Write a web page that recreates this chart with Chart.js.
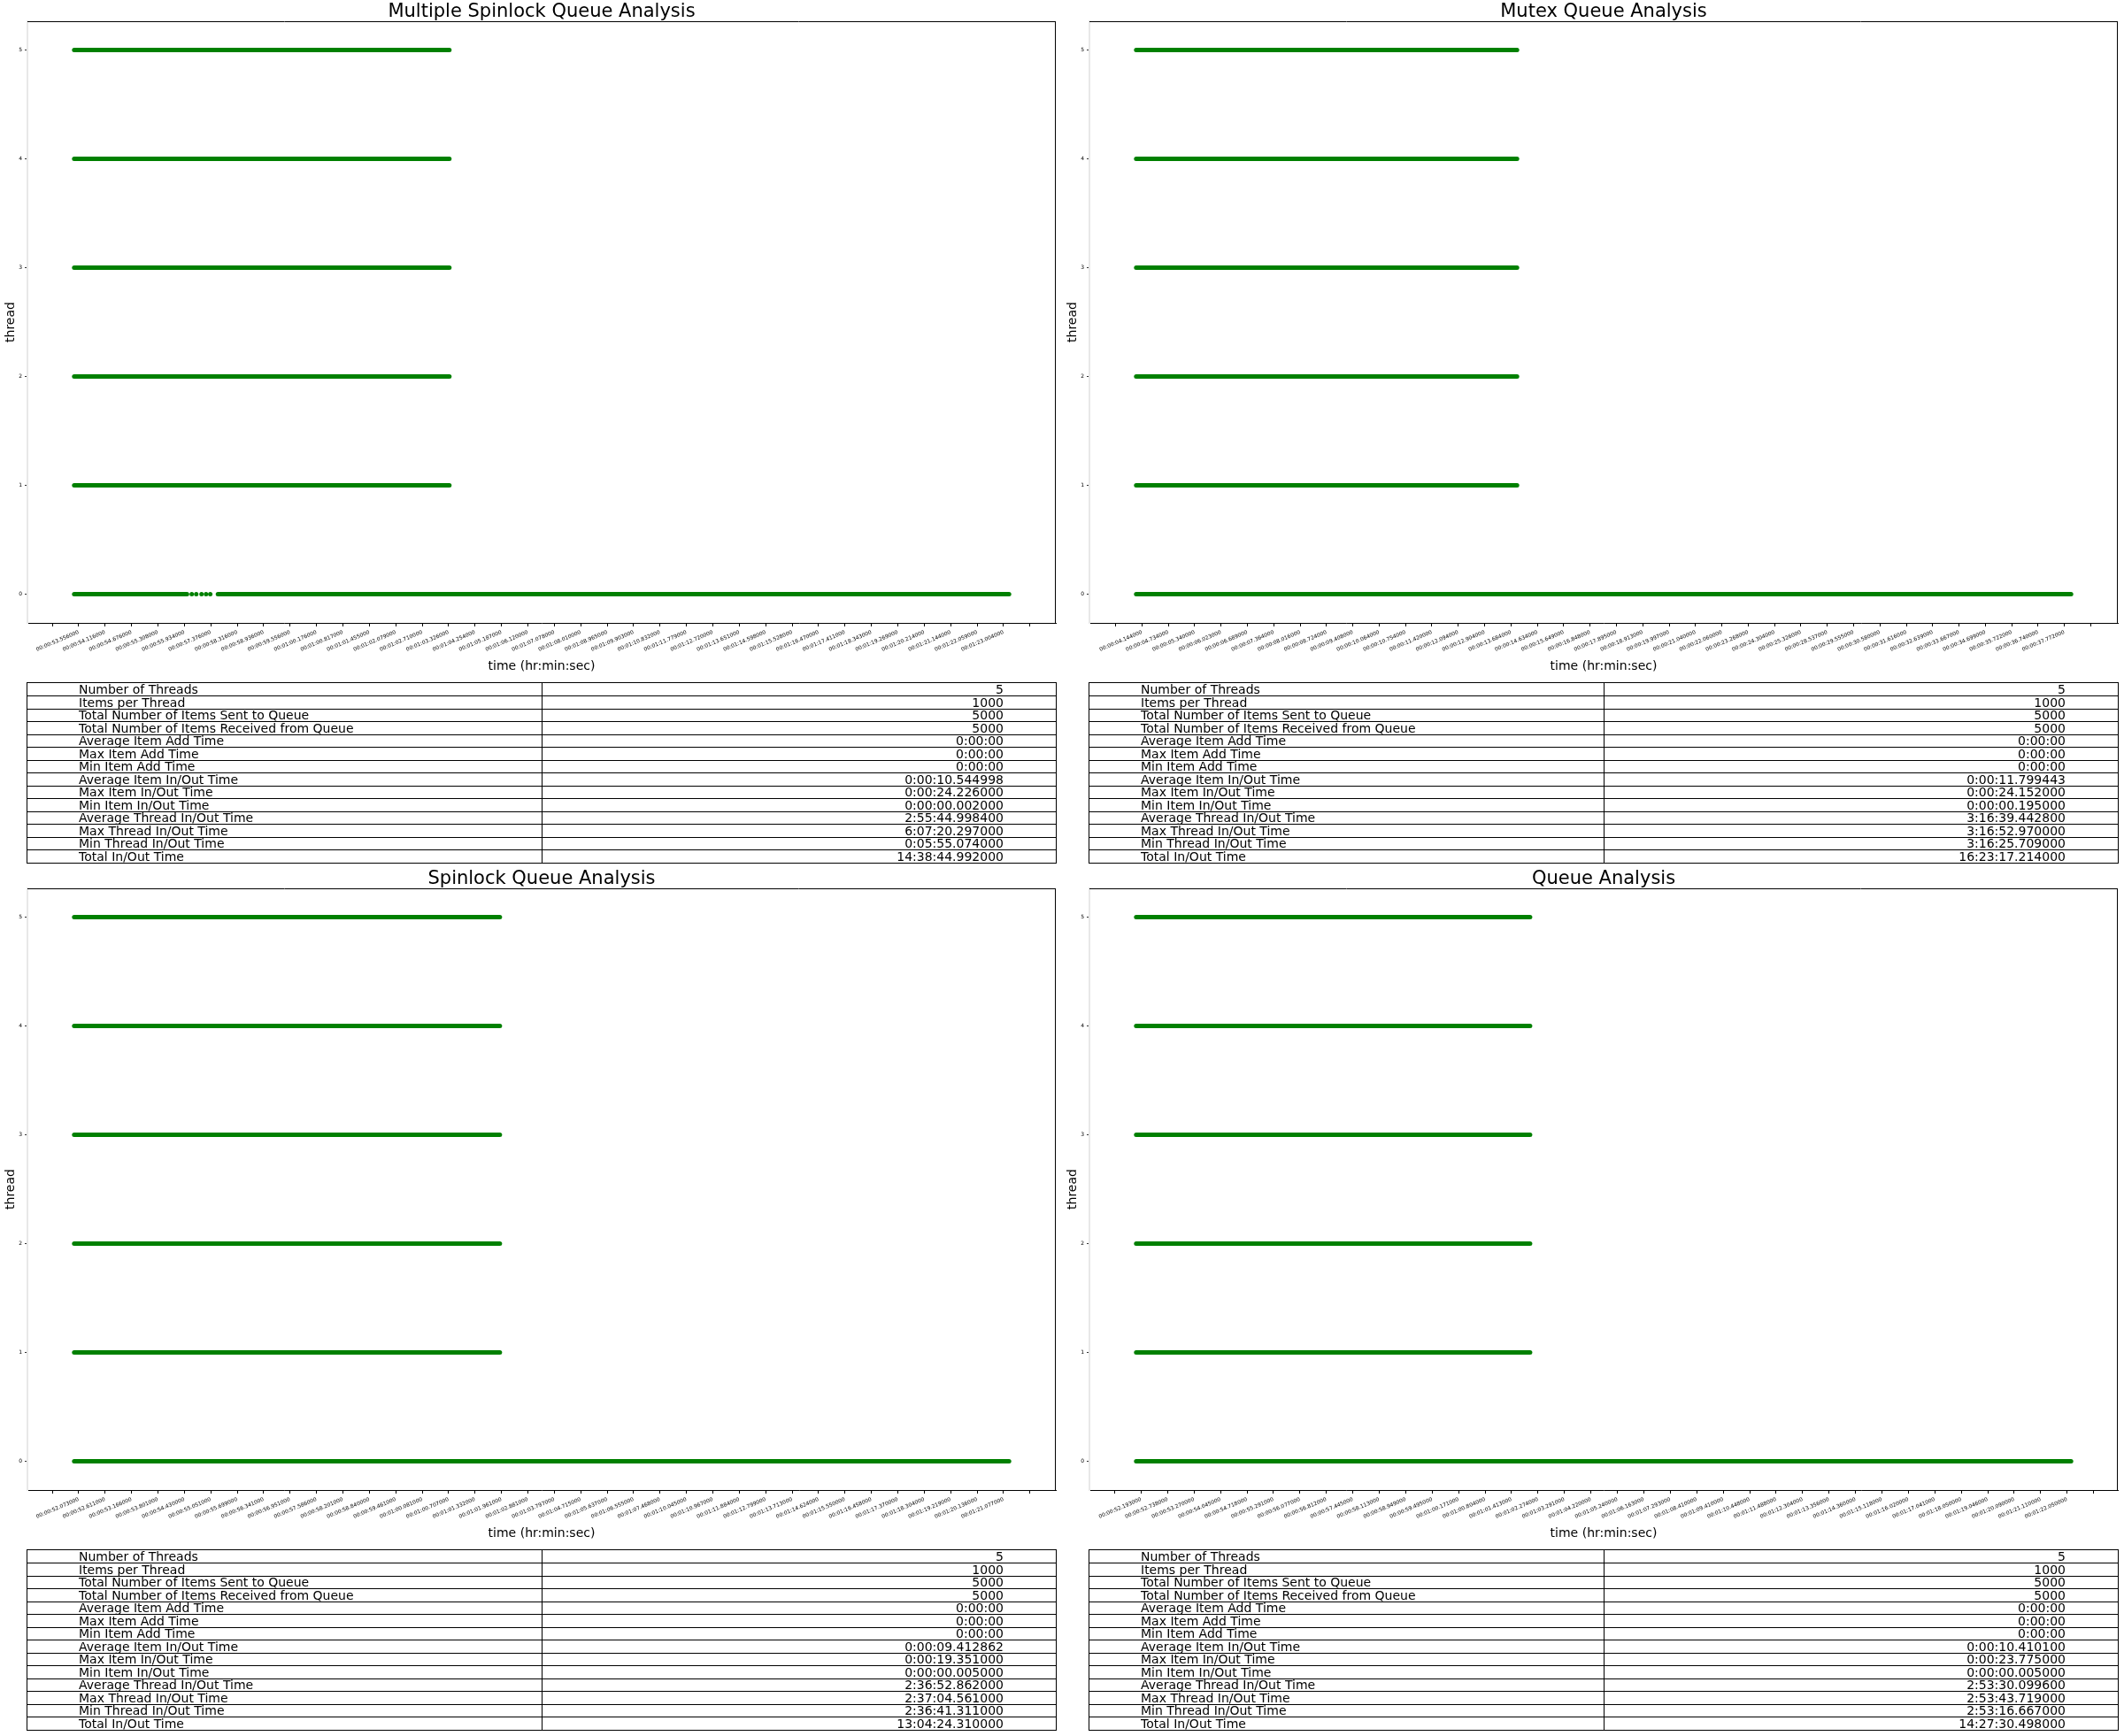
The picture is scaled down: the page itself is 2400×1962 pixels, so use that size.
<!DOCTYPE html>
<html><head><meta charset="utf-8">
<script src="https://cdn.jsdelivr.net/npm/chart.js@4.4.0/dist/chart.umd.min.js"></script>
<style>
html,body{margin:0;padding:0;background:#fff;}
body{width:2400px;height:1962px;overflow:hidden;position:relative;font-family:"DejaVu Sans";}
.panel{position:absolute;width:1200px;height:980px;}
.panel canvas{position:absolute;left:0;top:0;}
.tbl{position:absolute;left:30px;top:771px;width:1164px;height:205px;box-sizing:border-box;border:1px solid #000;}
.tbl .hl{position:absolute;left:0;right:0;height:1px;background:#000;}
.tbl .vl{position:absolute;top:0;bottom:0;left:581px;width:1px;background:#000;}
.tbl .lc,.tbl .rc{position:absolute;font-size:14px;color:#000;white-space:nowrap;}
.tbl .lc{left:58px;}
.tbl .rc{right:59px;text-align:right;}
</style>
</head><body>
<script>
const GREEN = '#008000';
const threads = [0, 1, 2, 3, 4, 5];
const panelTitles = ['Multiple Spinlock Queue Analysis', 'Mutex Queue Analysis', 'Spinlock Queue Analysis', 'Queue Analysis'];
const rowLabels = ['Number of Threads', 'Items per Thread', 'Total Number of Items Sent to Queue',
  'Total Number of Items Received from Queue', 'Average Item Add Time', 'Max Item Add Time', 'Min Item Add Time',
  'Average Item In/Out Time', 'Max Item In/Out Time', 'Min Item In/Out Time', 'Average Thread In/Out Time',
  'Max Thread In/Out Time', 'Min Thread In/Out Time', 'Total In/Out Time'];

// x tick labels (one per labelled tick)
const mslTicks = ['00:00:53.556000','00:00:54.116000','00:00:54.676000','00:00:55.308000','00:00:55.934000','00:00:57.376000',
  '00:00:58.316000','00:00:58.936000','00:00:59.556000','00:01:00.176000','00:01:00.817000','00:01:01.455000',
  '00:01:02.079000','00:01:02.710000','00:01:03.326000','00:01:04.254000','00:01:05.187000','00:01:06.120000',
  '00:01:07.078000','00:01:08.010000','00:01:08.965000','00:01:09.903000','00:01:10.832000','00:01:11.779000',
  '00:01:12.720000','00:01:13.651000','00:01:14.598000','00:01:15.528000','00:01:16.470000','00:01:17.411000',
  '00:01:18.343000','00:01:19.269000','00:01:20.214000','00:01:21.144000','00:01:22.059000','00:01:23.004000'];
const mutexTicks = ['00:00:04.144000','00:00:04.734000','00:00:05.340000','00:00:06.023000','00:00:06.689000','00:00:07.364000',
  '00:00:08.016000','00:00:08.724000','00:00:09.408000','00:00:10.064000','00:00:10.754000','00:00:11.420000',
  '00:00:12.094000','00:00:12.904000','00:00:13.684000','00:00:14.634000','00:00:15.649000','00:00:16.848000',
  '00:00:17.895000','00:00:18.913000','00:00:19.997000','00:00:21.040000','00:00:22.060000','00:00:23.268000',
  '00:00:24.304000','00:00:25.326000','00:00:28.537000','00:00:29.555000','00:00:30.580000','00:00:31.616000',
  '00:00:32.639000','00:00:33.667000','00:00:34.699000','00:00:35.722000','00:00:36.740000','00:00:37.772000'];
const spinTicks = ['00:00:52.073000','00:00:52.611000','00:00:53.166000','00:00:53.801000','00:00:54.430000','00:00:55.051000',
  '00:00:55.699000','00:00:56.341000','00:00:56.951000','00:00:57.586000','00:00:58.201000','00:00:58.840000',
  '00:00:59.461000','00:01:00.081000','00:01:00.707000','00:01:01.332000','00:01:01.961000','00:01:02.881000',
  '00:01:03.797000','00:01:04.715000','00:01:05.637000','00:01:06.555000','00:01:07.468000','00:01:10.045000',
  '00:01:10.967000','00:01:11.884000','00:01:12.799000','00:01:13.713000','00:01:14.624000','00:01:15.550000',
  '00:01:16.458000','00:01:17.370000','00:01:18.304000','00:01:19.219000','00:01:20.136000','00:01:21.077000'];
const queueTicks = ['00:00:52.193000','00:00:52.738000','00:00:53.270000','00:00:54.045000','00:00:54.718000','00:00:55.291000',
  '00:00:56.077000','00:00:56.812000','00:00:57.445000','00:00:58.113000','00:00:58.949000','00:00:59.495000',
  '00:01:00.171000','00:01:00.804000','00:01:01.413000','00:01:02.274000','00:01:03.291000','00:01:04.220000',
  '00:01:05.240000','00:01:06.163000','00:01:07.293000','00:01:08.410000','00:01:09.410000','00:01:10.448000',
  '00:01:11.488000','00:01:12.304000','00:01:13.356000','00:01:14.360000','00:01:15.118000','00:01:16.020000',
  '00:01:17.041000','00:01:18.050000','00:01:19.046000','00:01:20.090000','00:01:21.110000','00:01:22.050000'];

// first / last point of each thread (x in tick positions), threads 0..5
const mslStart = [-0.17, -0.17, -0.17, -0.17, -0.17, -0.17];
const mslEnd = [35.21, 14.03, 14.03, 14.03, 14.03, 14.03];
const mslGap0 = [4.10, 5.27];
const mslDots0 = [4.28, 4.45, 4.65, 4.82, 4.98];
const mutexStart = [-0.22, -0.22, -0.22, -0.22, -0.22, -0.22];
const mutexEnd = [35.25, 14.23, 14.23, 14.23, 14.23, 14.23];
const spinStart = [-0.17, -0.17, -0.17, -0.17, -0.17, -0.17];
const spinEnd = [35.21, 15.94, 15.94, 15.94, 15.94, 15.94];
const queueStart = [-0.19, -0.19, -0.19, -0.19, -0.19, -0.19];
const queueEnd = [35.15, 14.70, 14.70, 14.70, 14.70, 14.70];

// table values
const mslStats = ['5','1000','5000','5000','0:00:00','0:00:00','0:00:00','0:00:10.544998','0:00:24.226000','0:00:00.002000',
  '2:55:44.998400','6:07:20.297000','0:05:55.074000','14:38:44.992000'];
const mutexStats = ['5','1000','5000','5000','0:00:00','0:00:00','0:00:00','0:00:11.799443','0:00:24.152000','0:00:00.195000',
  '3:16:39.442800','3:16:52.970000','3:16:25.709000','16:23:17.214000'];
const spinStats = ['5','1000','5000','5000','0:00:00','0:00:00','0:00:00','0:00:09.412862','0:00:19.351000','0:00:00.005000',
  '2:36:52.862000','2:37:04.561000','2:36:41.311000','13:04:24.310000'];
const queueStats = ['5','1000','5000','5000','0:00:00','0:00:00','0:00:00','0:00:10.410100','0:00:23.775000','0:00:00.005000',
  '2:53:30.099600','2:53:43.719000','2:53:16.667000','14:27:30.498000'];

Chart.defaults.font.family = 'DejaVu Sans';

const framePlugin = {
  id: 'frame',
  afterDraw(c) {
    const {ctx, chartArea: a} = c;
    ctx.save();
    ctx.strokeStyle = '#000'; ctx.lineWidth = 1;
    ctx.beginPath();
    ctx.moveTo(a.left, a.top + 0.5); ctx.lineTo(a.right, a.top + 0.5);
    ctx.moveTo(a.right - 0.5, a.top); ctx.lineTo(a.right - 0.5, a.bottom);
    ctx.stroke();
    ctx.restore();
  }
};

function withMargin(lo, hi, m) { const s = hi - lo; return [lo - m * s, hi + m * s]; }

function makePanel(ox, oy, title, tickLabels, start, end, gaps, dots, stats) {
  const panel = document.createElement('div');
  panel.className = 'panel';
  panel.style.left = ox + 'px'; panel.style.top = oy + 'px';
  document.body.appendChild(panel);
  const cv = document.createElement('canvas');
  cv.width = 1200; cv.height = 772;
  panel.appendChild(cv);

  const datasets = [];
  const allX = [];
  threads.forEach((t, i) => {
    let segs = [[start[i], end[i]]];
    (gaps[i] || []).forEach(g => {
      const out = [];
      segs.forEach(([a, b]) => { if (g[0] > a && g[1] < b) { out.push([a, g[0]]); out.push([g[1], b]); } else out.push([a, b]); });
      segs = out;
    });
    segs.forEach(([a, b]) => {
      allX.push(a, b);
      datasets.push({data: [{x: a, y: t}, {x: b, y: t}], showLine: true, borderColor: GREEN, backgroundColor: GREEN,
        borderWidth: 5, borderCapStyle: 'round', pointRadius: 0});
    });
    if (dots[i]) {
      dots[i].forEach(x => allX.push(x));
      datasets.push({data: dots[i].map(x => ({x, y: t})), showLine: false, pointRadius: 2.5,
        backgroundColor: GREEN, borderWidth: 0});
    }
  });
  const [xmin, xmax] = withMargin(Math.min(...allX), Math.max(...allX), 0.05);
  const [ymin, ymax] = withMargin(Math.min(...threads), Math.max(...threads), 0.053);
  const tickPos = [];
  for (let k = -1; k <= tickLabels.length; k++) tickPos.push(k);

  new Chart(cv, {
    type: 'scatter',
    data: {datasets},
    options: {
      responsive: false, animation: false, devicePixelRatio: 1,
      layout: {padding: {left: 0, right: 7, top: 0, bottom: 0}},
      plugins: {
        legend: {display: false}, tooltip: {enabled: false},
        title: {display: true, text: title, fullSize: false, color: '#000',
          font: {size: 21, weight: 'normal', lineHeight: 1}, padding: {top: 3, bottom: 0}}
      },
      scales: {
        x: {
          type: 'linear', min: xmin, max: xmax,
          afterBuildTicks: s => { s.ticks = tickPos.map(v => ({value: v})); },
          afterFit: s => { s.height = 68; },
          ticks: {autoSkip: false, minRotation: 23, maxRotation: 23, padding: 3, color: '#000', font: {size: 6},
            callback: v => { const k = Math.round(v); return (k >= 0 && k < tickLabels.length) ? tickLabels[k] : ''; }},
          grid: {drawOnChartArea: false, drawTicks: true, tickLength: 4, color: '#000'},
          border: {color: '#000', width: 1},
          title: {display: true, text: 'time (hr:min:sec)', color: '#000', font: {size: 14}, padding: {top: 0, bottom: 10}}
        },
        y: {
          type: 'linear', min: ymin, max: ymax,
          afterBuildTicks: s => { s.ticks = threads.map(v => ({value: v})); },
          afterFit: s => { s.width = 31; },
          ticks: {padding: 3, color: '#000', font: {size: 6}},
          grid: {drawOnChartArea: false, drawTicks: true, tickLength: 3, color: '#333'},
          border: {color: '#e8e8e8', width: 2},
          title: {display: true, text: 'thread', color: '#000', font: {size: 14}, padding: {top: 4, bottom: 0}}
        }
      }
    },
    plugins: [framePlugin]
  });

  // table
  const tbl = document.createElement('div');
  tbl.className = 'tbl';
  panel.appendChild(tbl);
  const h = 203 / rowLabels.length;
  const vl = document.createElement('div'); vl.className = 'vl'; tbl.appendChild(vl);
  rowLabels.forEach((lab, i) => {
    if (i > 0) { const hl = document.createElement('div'); hl.className = 'hl'; hl.style.top = (i * h - 0.5) + 'px'; tbl.appendChild(hl); }
    const lc = document.createElement('div'); lc.className = 'lc'; lc.textContent = lab;
    lc.style.top = (i * h) + 'px'; lc.style.height = h + 'px'; lc.style.lineHeight = h + 'px'; tbl.appendChild(lc);
    const rc = document.createElement('div'); rc.className = 'rc'; rc.textContent = stats[i];
    rc.style.top = (i * h) + 'px'; rc.style.height = h + 'px'; rc.style.lineHeight = h + 'px'; tbl.appendChild(rc);
  });
}

makePanel(0, 0, panelTitles[0], mslTicks, mslStart, mslEnd, {0: [mslGap0]}, {0: mslDots0}, mslStats);
makePanel(1200, 0, panelTitles[1], mutexTicks, mutexStart, mutexEnd, {}, {}, mutexStats);
makePanel(0, 980, panelTitles[2], spinTicks, spinStart, spinEnd, {}, {}, spinStats);
makePanel(1200, 980, panelTitles[3], queueTicks, queueStart, queueEnd, {}, {}, queueStats);
</script>
</body></html>
